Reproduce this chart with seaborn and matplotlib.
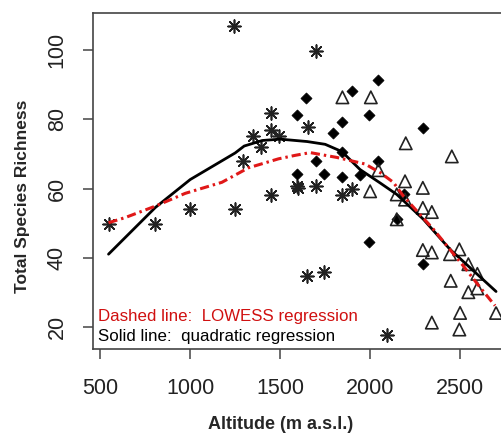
import pandas as pd
import matplotlib
matplotlib.use('Agg')
import matplotlib.pyplot as plt
import seaborn as sns


# 1. Data
# asterisks
alt_star = [546, 806, 1000, 1250, 1246, 1296, 1348, 1394, 1448, 1448, 1448, 1496,
            1593, 1598, 1652, 1698, 1698, 1843, 1902, 1648, 1746, 2096]
rich_star = [49.8, 49.8, 54.0, 54.0, 107.0, 67.9, 75.1, 71.9, 82.0, 77.0, 58.0, 75.1,
             60.8, 60.1, 77.9, 99.8, 60.8, 58.0, 59.8, 34.8, 35.7, 17.7]

# filled diamonds
alt_diam = [1595, 1595, 2046, 1898, 1643, 1996, 1843, 1796, 2296, 1843,
            1698, 2046, 1944, 1741, 1843, 2191, 2148, 1996, 2293]
rich_diam = [81.3, 64.3, 91.4, 88.2, 86.1, 81.3, 79.4, 76.0, 77.5, 70.7,
             68.1, 68.1, 64.0, 64.3, 63.2, 58.3, 51.1, 44.4, 38.1]

# open triangles
alt_tri = [1846, 2004, 2198, 2454, 2046, 2000, 2194, 2293, 2148, 2194, 2293, 2343,
           2148, 2293, 2343, 2444, 2496, 2546, 2596, 2448, 2546, 2596, 2500, 2700,
           2343, 2496]
rich_tri = [86.4, 86.4, 73.1, 69.3, 65.3, 59.2, 62.1, 60.2, 58.3, 56.8, 54.4, 53.2,
            51.1, 42.2, 41.5, 41.0, 42.4, 38.1, 35.3, 33.3, 30.0, 31.1, 24.0, 24.0,
            21.2, 19.2]

# fitted curves
quad_alt = [546, 806, 1000, 1250, 1300, 1400, 1500, 1650, 1750, 1843, 1944,
            2056, 2148, 2296, 2444, 2593, 2700]
quad_fit = [41.0, 54.5, 62.6, 70.3, 72.3, 73.9, 74.3, 73.6, 72.8, 70.7, 65.5,
            61.6, 58.3, 51.1, 42.4, 35.3, 30.2]

lowess_alt = [546, 639, 806, 972, 1176, 1324, 1491, 1583, 1667, 1815, 1972,
              2056, 2129, 2185, 2352, 2518, 2611, 2694]
lowess_fit = [50.1, 51.6, 54.9, 58.6, 61.8, 66.0, 68.6, 69.6, 70.4, 69.0, 67.1,
              64.6, 61.8, 57.8, 48.2, 37.6, 31.4, 26.1]

x_ticks = [500, 1000, 1500, 2000, 2500]
y_ticks = [20, 40, 60, 80, 100]

df_star = pd.DataFrame({'alt': alt_star, 'rich': rich_star})
df_diam = pd.DataFrame({'alt': alt_diam, 'rich': rich_diam})
df_tri = pd.DataFrame({'alt': alt_tri, 'rich': rich_tri})
df_quad = pd.DataFrame({'alt': quad_alt, 'rich': quad_fit})
df_low = pd.DataFrame({'alt': lowess_alt, 'rich': lowess_fit})

# 2. Style
sns.set_style('ticks')
plt.rcParams['font.family'] = ['Liberation Sans', 'DejaVu Sans']

fig = plt.figure(figsize=(5.02, 4.34), dpi=100)
ax = fig.add_axes([0.185, 0.197, 0.815, 0.773])

# 3. Points
sns.scatterplot(data=df_star, x='alt', y='rich', ax=ax, marker=(8, 2, 0), s=85,
                color='#222222', linewidth=1.2, zorder=3)
sns.scatterplot(data=df_diam, x='alt', y='rich', ax=ax, marker='D', s=32,
                color='black', edgecolor='black', linewidth=0.5, zorder=3)
sns.scatterplot(data=df_tri, x='alt', y='rich', ax=ax, marker='^', s=80,
                facecolor='none', edgecolor='#222222', linewidth=1.2, zorder=3)

# 4. Curves
sns.lineplot(data=df_quad, x='alt', y='rich', ax=ax, sort=False, estimator=None,
             color='black', linewidth=2.0, zorder=4)
sns.lineplot(data=df_low, x='alt', y='rich', ax=ax, sort=False, estimator=None,
             color='#e01818', linewidth=2.2, linestyle=(0, (3.0, 1.3, 0.8, 1.3)), zorder=5)

# 5. Axes
ax.set_xlim(459, 2733)
ax.set_ylim(13.7, 110.8)
ax.set_xticks(x_ticks)
ax.set_yticks(y_ticks)
ax.tick_params(axis='both', labelsize=15.5, length=7, width=1.1, color='#444444',
               labelcolor='#222222')
ax.tick_params(axis='x', pad=14.5)
ax.tick_params(axis='y', pad=11)
for lab in ax.get_yticklabels():
    lab.set_rotation(90)
    lab.set_va('center')

for side in ['left', 'bottom', 'top']:
    ax.spines[side].set_color('#444444')
    ax.spines[side].set_linewidth(1.2)
ax.spines['right'].set_visible(False)

ax.set_xlabel('Altitude (m a.s.l.)', fontsize=13, fontweight='bold')
ax.set_ylabel('Total Species Richness', fontsize=12.5, fontweight='bold')
ax.xaxis.label.set_va('center')
ax.yaxis.label.set_va('center')
ax.xaxis.set_label_coords(0.46, -0.227)
ax.yaxis.set_label_coords(-0.173, 0.455)

ax.text(0.012, 0.094, 'Dashed line:  LOWESS regression', transform=ax.transAxes,
        color='#d01010', fontsize=12.2, va='center', ha='left')
ax.text(0.012, 0.036, 'Solid line:  quadratic regression', transform=ax.transAxes,
        color='black', fontsize=12.2, va='center', ha='left')

fig.savefig('out.png', dpi=100)
